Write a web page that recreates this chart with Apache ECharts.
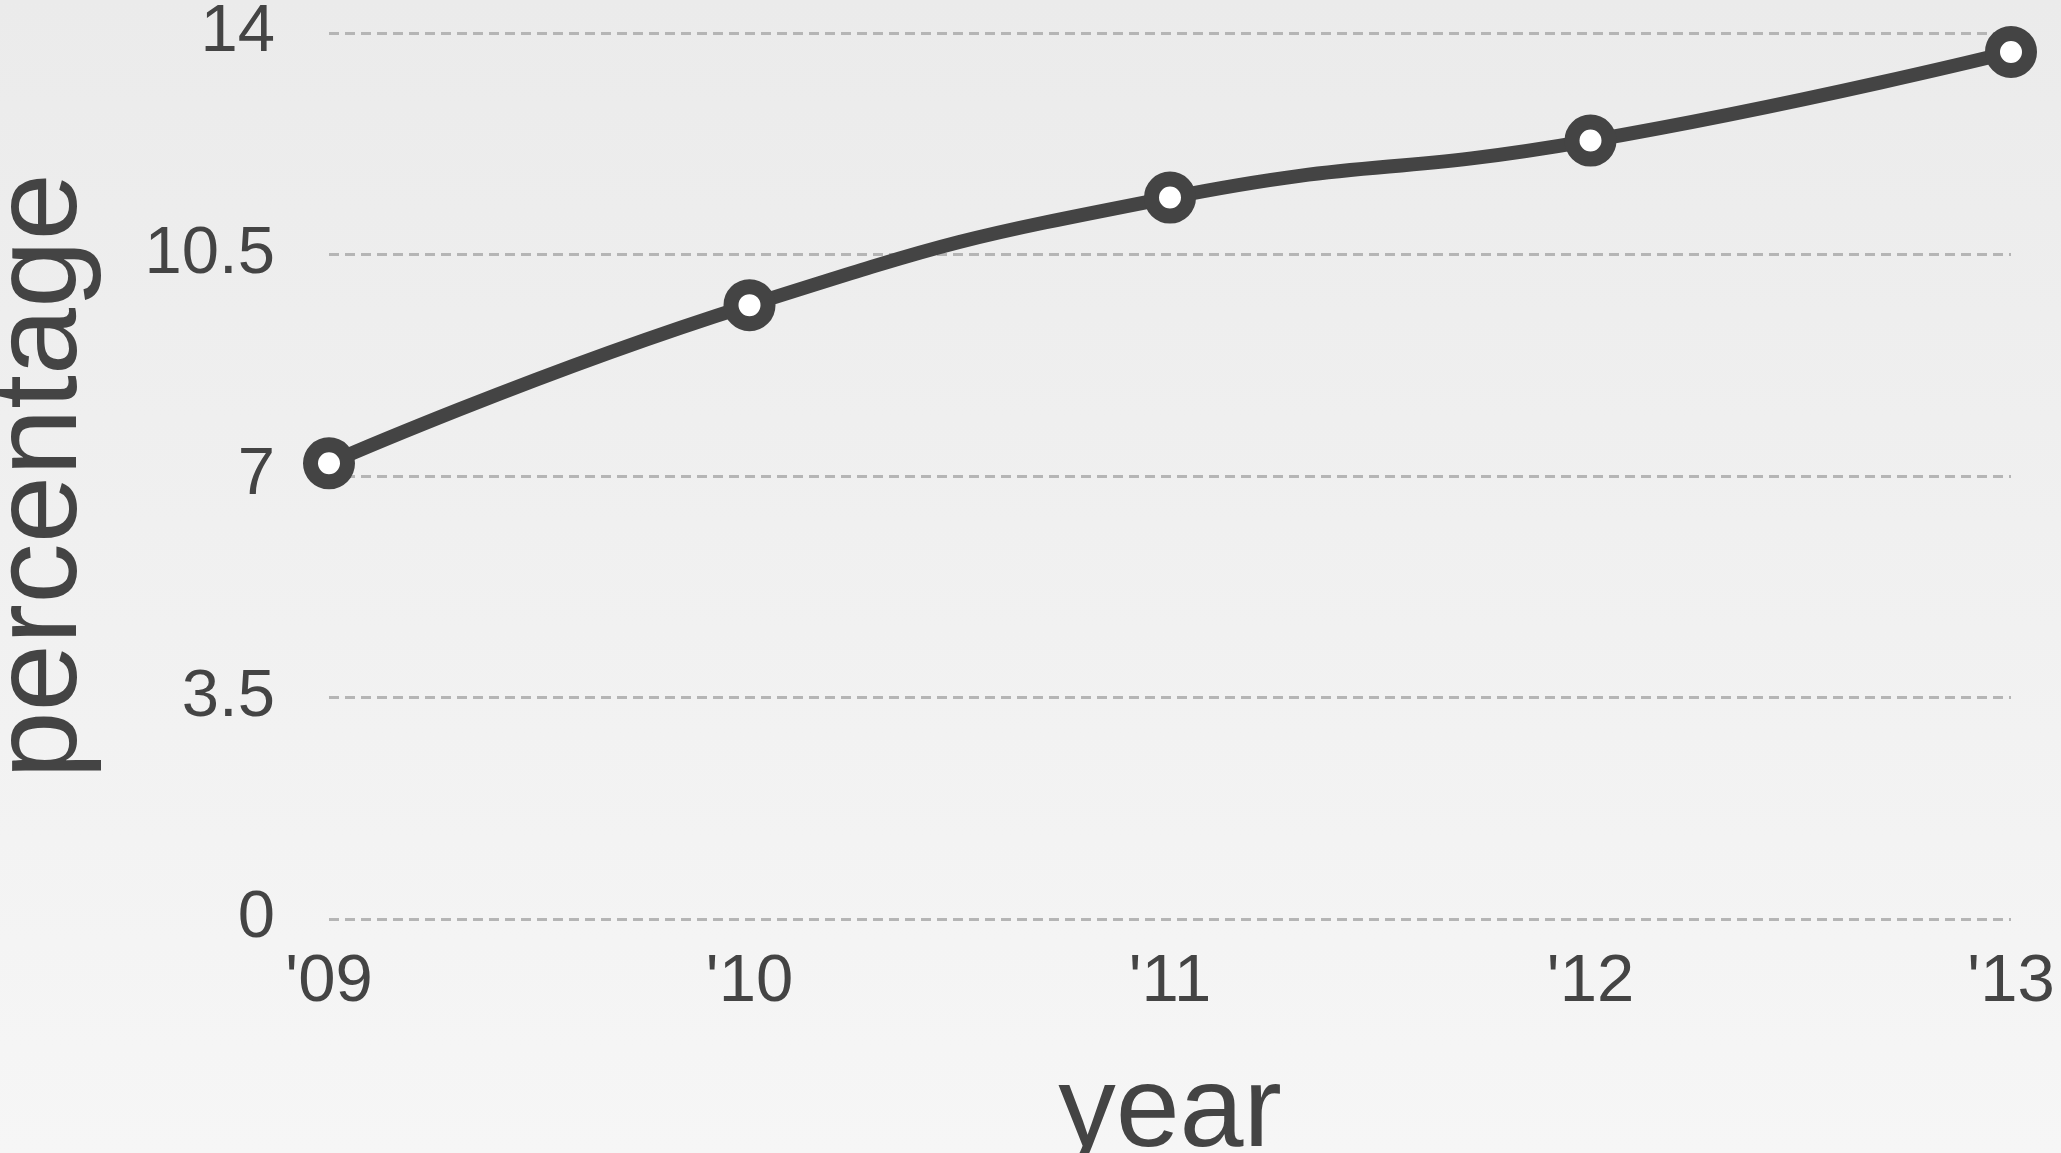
<!DOCTYPE html>
<html>
<head>
<meta charset="utf-8">
<script src="https://cdn.jsdelivr.net/npm/echarts@6/dist/echarts.min.js"></script>
<style>
  html, body { margin: 0; padding: 0; }
  body {
    width: 2061px;
    height: 1153px;
    background: linear-gradient(to bottom, #ebebeb, #f6f6f6);
  }
  #chart { width: 2061px; height: 1153px; }
</style>
</head>
<body>
<div id="chart"></div>
<script>
// data
const years = ["'09", "'10", "'11", "'12", "'13"];
const percentage = [7.2, 9.7, 11.4, 12.3, 13.7];
const yTicks = [0, 3.5, 7, 10.5, 14];

const textColor = '#444';
const fontFamily = '"Liberation Sans", Arial, sans-serif';

const chart = echarts.init(document.getElementById('chart'));
chart.setOption({
  backgroundColor: 'transparent',
  animation: false,
  grid: { left: 329, right: 50, top: 33, bottom: 234, outerBoundsMode: 'none' },
  xAxis: {
    type: 'category',
    data: years,
    boundaryGap: false,
    name: 'year',
    nameLocation: 'middle',
    nameGap: 138,
    nameTextStyle: { fontSize: 115, color: textColor, fontFamily: fontFamily },
    axisLine: { show: false },
    axisTick: { show: false },
    axisLabel: { fontSize: 67, color: textColor, fontFamily: fontFamily, margin: 30 },
    splitLine: { show: false }
  },
  yAxis: {
    type: 'value',
    min: yTicks[0],
    max: yTicks[yTicks.length - 1],
    interval: yTicks[1] - yTicks[0],
    name: 'percentage',
    nameLocation: 'middle',
    nameGap: 226,
    nameTextStyle: { fontSize: 121, color: textColor, fontFamily: fontFamily },
    axisLine: { show: false },
    axisTick: { show: false },
    axisLabel: { fontSize: 67, color: textColor, fontFamily: fontFamily, margin: 54 },
    splitLine: {
      lineStyle: { color: '#b5b5b5', width: 3, type: [10, 6] }
    }
  },
  series: [{
    type: 'line',
    data: percentage,
    smooth: true,
    symbol: 'circle',
    symbolSize: 37,
    lineStyle: { color: '#444', width: 14 },
    itemStyle: { color: '#fff', borderColor: '#444', borderWidth: 15 }
  }]
});
</script>
</body>
</html>
